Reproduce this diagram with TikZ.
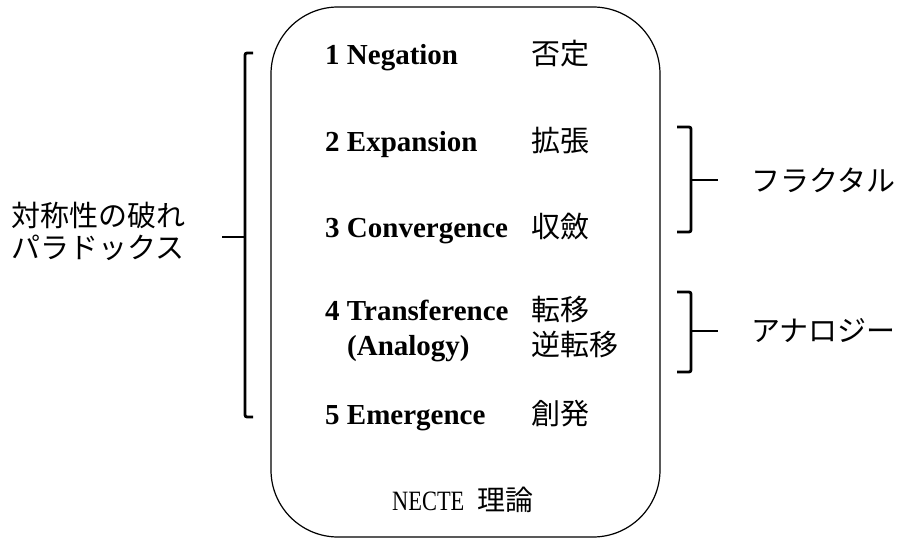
\documentclass[tikz,border=0pt]{standalone}
\usepackage{fontspec}
\setmainfont{Liberation Serif}
\newfontfamily\jp{Noto Sans CJK JP}
\newfontfamily\nectefont[FakeStretch=0.8]{Liberation Serif}
\begin{document}
\begin{tikzpicture}[x=1pt,y=-1pt,
  brk/.style={line width=2.8pt, rounded corners=2pt},
  en/.style={anchor=base west, inner sep=0pt, font=\bfseries\fontsize{29}{29}\selectfont},
  ja/.style={anchor=base west, inner sep=0pt, font=\jp\fontsize{29}{29}\selectfont},
  lab/.style={inner sep=0pt, font=\jp\fontsize{29}{32}\selectfont},
  frame/.style={draw, line width=1.2pt, rounded corners=67pt, minimum width=389pt, minimum height=530pt, inner sep=0pt}
]
\useasboundingbox (0,0) rectangle (900,540);
\node[frame] (box) at (465.5,272) {};

% items
\node[en] (n1) at (325,65)  {1 Negation};
\node[ja] (j1) at (531,65)  {否定};
\node[en] (n2) at (325,152) {2 Expansion};
\node[ja] (j2) at (531,152) {拡張};
\node[en] (n3) at (325,238) {3 Convergence};
\node[ja] (j3) at (531,238) {収斂};
\node[en] (n4) at (325,320) {4 Transference};
\node[ja] (j4) at (531,320) {転移};
\node[en] (n4b) at (347,355) {(Analogy)};
\node[ja] (j4b) at (531,355) {逆転移};
\node[en] (n5) at (325,424) {5 Emergence};
\node[ja] (j5) at (531,424) {創発};
\node[anchor=base west, inner sep=0pt, font=\fontsize{28}{28}\selectfont] (title) at (392,510)
  {{\nectefont NECTE}\hspace{13pt}{\jp 理論}};

% left bracket
\coordinate (lt) at (253,53);
\coordinate (lb) at (253,417);
\coordinate (lm) at (245,237);
\coordinate (ltick) at (222,237);
\node[lab, anchor=west, align=left] (left) at (11,231) {対称性の破れ\\パラドックス};
\draw[brk] (lt) -- (245,53) -- (245,417) -- (lb);
\draw[brk] (ltick) -- (lm);

% fractal bracket
\coordinate (ft) at (677,127);
\coordinate (fb) at (677,232);
\coordinate (fm) at (691,180);
\coordinate (ftick) at (718,180);
\node[ja, anchor=west] (frac) at (751,180) {フラクタル};
\draw[brk] (ft) -- (691,127) -- (691,232) -- (fb);
\draw[brk] (fm) -- (ftick);

% analogy bracket
\coordinate (at) at (677,292);
\coordinate (ab) at (677,372);
\coordinate (am) at (691,331);
\coordinate (atick) at (718,331);
\node[ja, anchor=west] (anal) at (751,331) {アナロジー};
\draw[brk] (at) -- (691,292) -- (691,372) -- (ab);
\draw[brk] (am) -- (atick);
\end{tikzpicture}
\end{document}
